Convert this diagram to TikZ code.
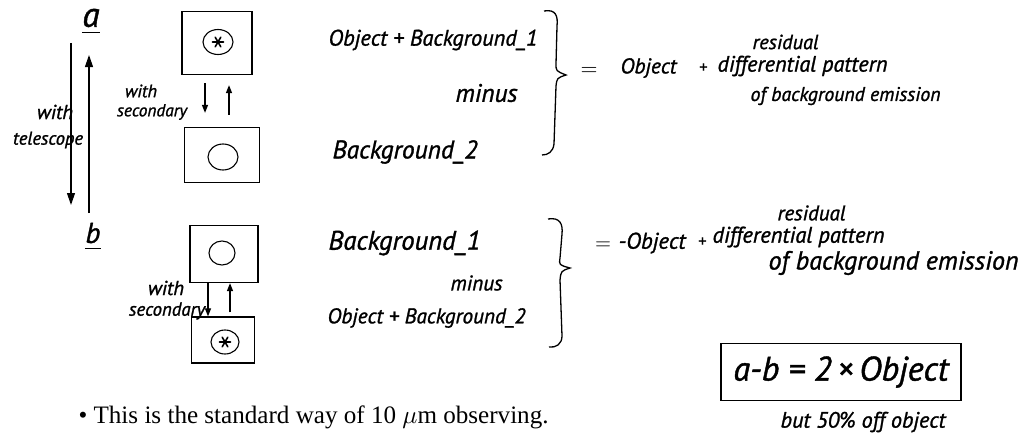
\documentclass[tikz,border=0pt]{standalone}
\usepackage{fontspec}
\setmainfont{Liberation Serif}
\newfontfamily\hwfont{PT Sans}[ItalicFeatures={FakeBold=1.2}]
\usetikzlibrary{arrows.meta,shapes.geometric,calc}
\newcommand{\hwt}[2]{\resizebox{#1pt}{!}{\hwfont\itshape #2}}
\newcommand{\astmark}[1]{\draw[line width=1.6pt,line cap=round]
  ($(#1)+(-5.5,0)$) -- ($(#1)+(5.5,0)$)
  ($(#1)+(-2.8,-4.8)$) -- ($(#1)+(2.8,4.8)$)
  ($(#1)+(-2.8,4.8)$) -- ($(#1)+(2.8,-4.8)$);}
\begin{document}
\begin{tikzpicture}[x=1pt,y=-1pt,line width=1.1pt,
  hw/.style={inner sep=0pt,anchor=west},
  hwc/.style={inner sep=0pt},
  frame/.style={draw,line width=1.3pt,inner sep=0pt},
  ring/.style={draw,ellipse,line width=1.1pt,inner sep=0pt},
  arr/.style={-{Triangle[length=8pt,width=6pt]},line width=1.2pt},
  bigarr/.style={-{Triangle[length=12pt,width=8pt]},line width=1.2pt}]
\useasboundingbox (0,0) rectangle (1030,436);
\fill[white] (0,0) rectangle (1030,436);

% labels a, b
\node[hwc] (la) at (91,18) {\hwt{17}{a}};
\draw ([yshift=-5pt]la.south west) -- ([yshift=-5pt]la.south east);
\node[hwc] (lb) at (93,233) {\hwt{15}{b}};
\draw ([yshift=-5pt]lb.south west) -- ([yshift=-5pt]lb.south east);

% telescope arrows
\coordinate (td1) at (71,43);
\coordinate (td2) at (71,205);
\coordinate (tu1) at (89,213);
\coordinate (tu2) at (89,55);
\draw[bigarr] (td1) -- (td2);
\draw[bigarr] (tu1) -- (tu2);
\node[hwc] (wt1) at (55,112) {\hwt{36}{with}};
\node[hwc] (wt2) at (48,140) {\hwt{70}{telescope}};

% group a boxes
\node[frame,minimum width=70pt,minimum height=63pt] (A1) at (217,43) {};
\node[ring,minimum width=30pt,minimum height=25pt] (A1c) at (218,42) {};
\astmark{A1c.center}
\node[frame,minimum width=75pt,minimum height=55pt] (A2) at (222,155) {};
\node[ring,minimum width=30pt,minimum height=26pt] (A2c) at (223,157) {};
\coordinate (a1d) at ([xshift=-12pt]A1.south);
\coordinate (a2d) at (a1d |- A2.north);
\coordinate (a1u) at ([xshift=12pt]A1.south);
\coordinate (a2u) at (a1u |- A2.north);
\draw[arr,shorten <=8pt,shorten >=14pt] (a1d) -- (a2d);
\draw[arr,shorten <=12pt,shorten >=10pt] (a2u) -- (a1u);
\node[hwc] (ws1) at (141,91) {\hwt{32}{with}};
\node[hwc] (ws2) at (152,112) {\hwt{70}{secondary}};

% group b boxes
\node[frame,minimum width=68pt,minimum height=57pt] (B1) at (224,254) {};
\node[ring,minimum width=26pt,minimum height=24pt] (B1c) at (222,253) {};
\node[frame,minimum width=63pt,minimum height=46pt] (B2) at (223,340) {};
\node[ring,minimum width=28pt,minimum height=24pt] (B2c) at (225,342) {};
\astmark{B2c.center}
\coordinate (b1d) at ([xshift=-16pt]B1.south);
\coordinate (b2d) at (b1d |- B2.north);
\coordinate (b1u) at ([xshift=6pt]B1.south);
\coordinate (b2u) at (b1u |- B2.north);
\draw[arr] (b1d) -- (b2d);
\draw[arr,shorten <=4pt] (b2u) -- (b1u);
\node[hwc] (ws3) at (166,288) {\hwt{36}{with}};
\node[hwc] (ws4) at (167,311) {\hwt{76}{secondary}};

% equation a
\node[hw] (ea1) at (328,40) {\hwt{209}{Object + Background\_1}};
\node[hw] (ea2) at (455,93) {\hwt{62}{minus}};
\node[hw] (ea3) at (332,152) {\hwt{145}{Background\_2}};
\draw[line width=1.3pt] (544,11) .. controls (556,9) and (558,16) .. (557,26)
  -- (556,64) .. controls (556,71) .. (566,75)
  .. controls (557,78) .. (556,86) -- (554,144)
  .. controls (553,152) and (548,155) .. (542,155);
\node[hwc] (eqa) at (589,71) {\resizebox{17pt}{!}{$=$}};
\node[hw] (oba) at (620,68) {\hwt{56}{Object}};
\node[hwc] (pla) at (703,68) {\hwt{8}{+}};
\node[hw] (ra1) at (752,42) {\hwt{66}{residual}};
\node[hw] (ra2) at (717,66) {\hwt{170}{differential pattern}};
\node[hw] (ra3) at (750,96) {\hwt{190}{of background emission}};

% equation b
\node[hw] (eb1) at (328,243) {\hwt{152}{Background\_1}};
\node[hw] (eb2) at (450,283) {\hwt{52}{minus}};
\node[hw] (eb3) at (327,318) {\hwt{198}{Object + Background\_2}};
\draw[line width=1.3pt] (548,219) .. controls (560,217) and (563,224) .. (562,234)
  -- (560,258) .. controls (559,265) .. (570,268)
  .. controls (561,271) .. (560,280) -- (562,336)
  .. controls (562,344) and (556,348) .. (549,347);
\node[hwc] (eqb) at (603,246) {\resizebox{16pt}{!}{$=$}};
\node[hw] (obb) at (618,243) {\hwt{67}{-Object}};
\node[hwc] (plb) at (702,242) {\hwt{8}{+}};
\node[hw] (rb1) at (777,213) {\hwt{68}{residual}};
\node[hw] (rb2) at (712,237) {\hwt{172}{differential pattern}};
\node[hw] (rb3) at (768,263) {\hwt{250}{of background emission}};

% result
\node[frame,minimum width=240pt,minimum height=57pt] (res) at (841,372) {\hwt{215}{a-b = 2\,\texttimes\,Object}};
\node[hw] (but) at (780,422) {\hwt{165}{but 50\% off object}};

% note
\node[anchor=west,inner sep=0pt] (note) at (78,417) {\resizebox{470pt}{!}{\textbullet\ This is the standard way of 10 $\mu$m observing.}};
\end{tikzpicture}
\end{document}
